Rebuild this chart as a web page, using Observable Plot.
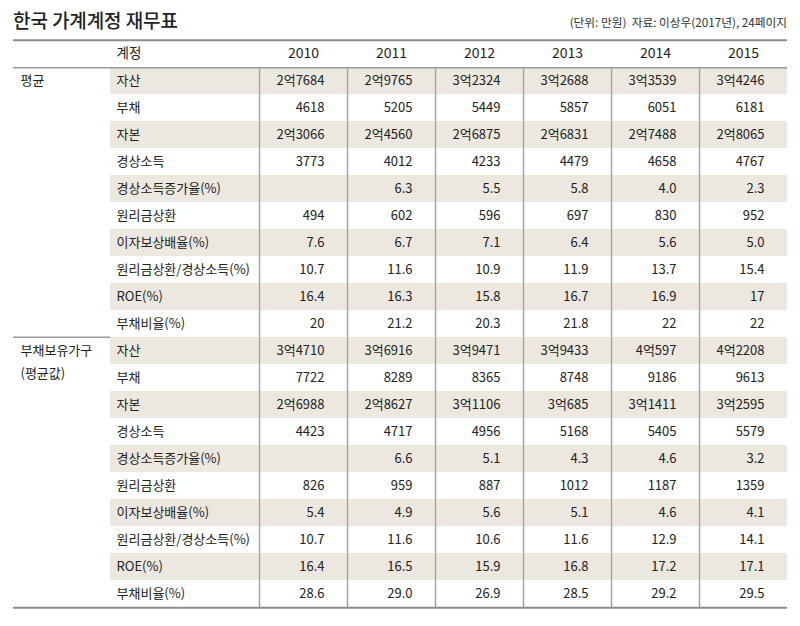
<!DOCTYPE html>
<html>
<head>
<meta charset="utf-8">
<script src="https://cdn.jsdelivr.net/npm/d3@7"></script>
<script src="https://cdn.jsdelivr.net/npm/@observablehq/plot@0.6"></script>
<style>
  html, body { margin: 0; padding: 0; background: #fff; }
  #wrap { position: relative; width: 800px; height: 626px; font-family: "Noto Sans CJK KR", sans-serif; }
  #title { position: absolute; left: 13px; top: 6px; font-size: 19px; font-weight: 500; color: #222; letter-spacing: -0.1px; }
  #subtitle { position: absolute; right: 13px; top: 13px; font-size: 11.7px; color: #333; }
  svg { overflow: visible; }
</style>
</head>
<body>
<div id="wrap">
  <div id="title">한국 가계계정 재무표</div>
  <div id="subtitle">(단위: 만원)&nbsp; 자료: 이상우(2017년), 24페이지</div>
  <div id="chart"></div>
</div>
<script>
// ---- data ----
const years = ["2010", "2011", "2012", "2013", "2014", "2015"];
const headerLabel = "계정";
const groups = [["평균"], ["부채보유가구", "(평균값)"]];
const accounts = ["자산", "부채", "자본", "경상소득", "경상소득증가율(%)", "원리금상환",
  "이자보상배율(%)", "원리금상환/경상소득(%)", "ROE(%)", "부채비율(%)"];

const avgAsset      = ["2억7684", "2억9765", "3억2324", "3억2688", "3억3539", "3억4246"];
const avgDebt       = ["4618", "5205", "5449", "5857", "6051", "6181"];
const avgEquity     = ["2억3066", "2억4560", "2억6875", "2억6831", "2억7488", "2억8065"];
const avgIncome     = ["3773", "4012", "4233", "4479", "4658", "4767"];
const avgIncomeGr   = ["", "6.3", "5.5", "5.8", "4.0", "2.3"];
const avgRepay      = ["494", "602", "596", "697", "830", "952"];
const avgICR        = ["7.6", "6.7", "7.1", "6.4", "5.6", "5.0"];
const avgRepayRatio = ["10.7", "11.6", "10.9", "11.9", "13.7", "15.4"];
const avgROE        = ["16.4", "16.3", "15.8", "16.7", "16.9", "17"];
const avgDebtRatio  = ["20", "21.2", "20.3", "21.8", "22", "22"];

const dhAsset      = ["3억4710", "3억6916", "3억9471", "3억9433", "4억597", "4억2208"];
const dhDebt       = ["7722", "8289", "8365", "8748", "9186", "9613"];
const dhEquity     = ["2억6988", "2억8627", "3억1106", "3억685", "3억1411", "3억2595"];
const dhIncome     = ["4423", "4717", "4956", "5168", "5405", "5579"];
const dhIncomeGr   = ["", "6.6", "5.1", "4.3", "4.6", "3.2"];
const dhRepay      = ["826", "959", "887", "1012", "1187", "1359"];
const dhICR        = ["5.4", "4.9", "5.6", "5.1", "4.6", "4.1"];
const dhRepayRatio = ["10.7", "11.6", "10.6", "11.6", "12.9", "14.1"];
const dhROE        = ["16.4", "16.5", "15.9", "16.8", "17.2", "17.1"];
const dhDebtRatio  = ["28.6", "29.0", "26.9", "28.5", "29.2", "29.5"];

const groupValues = [
  [avgAsset, avgDebt, avgEquity, avgIncome, avgIncomeGr, avgRepay, avgICR, avgRepayRatio, avgROE, avgDebtRatio],
  [dhAsset, dhDebt, dhEquity, dhIncome, dhIncomeGr, dhRepay, dhICR, dhRepayRatio, dhROE, dhDebtRatio]
];

// ---- table built from the arrays ----
const rows = [];
const cells = [];
groups.forEach((g, gi) => {
  accounts.forEach((a, ai) => {
    const id = `${gi}-${ai}`;
    rows.push({id, gi, ai, account: a});
    years.forEach((yr, yi) => cells.push({id, year: yr, value: groupValues[gi][ai][yi]}));
  });
});
const rowIds = ["header", ...rows.map(d => d.id)];
const groupLines = groups.flatMap((lines, gi) => lines.map((label, li) => ({id: `${gi}-0`, label, li})));
const shaded = rows.filter(d => d.ai % 2 === 0);
const firstId = rows[0].id, lastId = rows[rows.length - 1].id;
const groupStart = groups.slice(1).map((g, i) => `${i + 1}-0`);

// ---- layout (style constants) ----
const W = 800, H = 626, mT = 34, mB = 14, mL = 13, mR = 13;
const rowH = (H - mT - mB) / rowIds.length;
const colX0 = 259, colX1 = 787;
const colW = (colX1 - colX0) / years.length;
const lineGray = "#8e8e8e";
const groupLineGap = 23;

const chart = Plot.plot({
  width: W, height: H,
  marginTop: mT, marginBottom: mB, marginLeft: mL, marginRight: mR,
  style: {fontFamily: "'Noto Sans CJK KR', sans-serif", fontSize: "13px", color: "#2b2b2b", background: "#fff"},
  x: {type: "band", domain: years, range: [colX0, colX1], padding: 0, axis: null},
  y: {type: "band", domain: rowIds, padding: 0, axis: null},
  marks: [
    // alternating shading
    Plot.cell(shaded, {y: "id", fill: "#ece8e0", insetLeft: 97}),
    // vertical dividers
    Plot.ruleX(years, {x: d => d, y1: () => firstId, y2: () => lastId, dx: -colW / 2, stroke: "#a6a6a6", strokeWidth: 1.5}),
    // horizontal rules
    Plot.ruleY(["header"], {y: d => d, dy: -rowH / 2, stroke: lineGray, strokeWidth: 2}),
    Plot.ruleY(["header"], {y: d => d, dy: rowH / 2, stroke: "#9a9a9a", strokeWidth: 1.5}),
    Plot.ruleY(groupStart, {y: d => d, dy: -rowH / 2, stroke: "#9a9a9a", strokeWidth: 1.5, insetRight: colX1 - 110}),
    Plot.ruleY([lastId], {y: d => d, dy: rowH / 2, stroke: lineGray, strokeWidth: 2}),
    // header
    Plot.text([headerLabel], {y: () => "header", text: d => d, frameAnchor: "left", dx: 103, fontSize: 13.5, fill: "#222"}),
    Plot.text(years, {x: d => d, y: () => "header", text: d => d, fontSize: 14, fill: "#222"}),
    // group labels (first line)
    Plot.text(groupLines.filter(d => d.li === 0), {y: "id", text: "label", frameAnchor: "left", dx: 7, fontSize: 13, fill: "#222", style: "letter-spacing:-0.3px"}),
    // group labels (second line)
    Plot.text(groupLines.filter(d => d.li === 1), {y: "id", text: "label", frameAnchor: "left", dx: 7, dy: groupLineGap, fontSize: 13, fill: "#222", style: "letter-spacing:-0.3px"}),
    // account labels
    Plot.text(rows, {y: "id", text: "account", frameAnchor: "left", dx: 103, fontSize: 13, fill: "#222", style: "letter-spacing:-0.4px"}),
    // values
    Plot.text(cells, {x: "year", y: "id", text: "value", textAnchor: "end", dx: colW / 2 - 23, fontSize: 13, fill: "#222"})
  ]
});
document.getElementById("chart").appendChild(chart);
</script>
</body>
</html>
